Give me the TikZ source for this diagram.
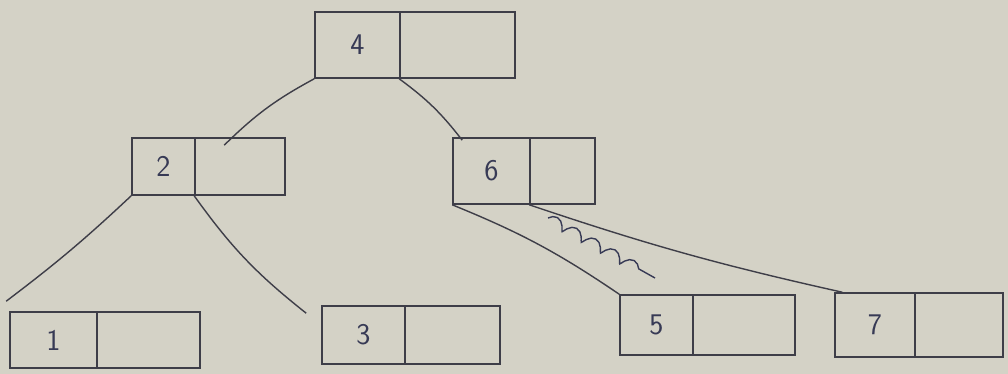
\documentclass[tikz,border=0pt]{standalone}
\usetikzlibrary{decorations.pathmorphing}
\definecolor{paper}{RGB}{212,210,198}
\definecolor{ink}{RGB}{62,62,72}
\definecolor{inkblue}{RGB}{55,58,85}
\begin{document}
\begin{tikzpicture}[x=1pt,y=-1pt,
  cell/.style={draw=ink,line width=1.6pt,inner sep=0pt,rectangle,
    font=\sffamily\fontsize{30}{34}\selectfont,text=inkblue},
  link/.style={draw=ink,line width=1.4pt},
  scrib/.style={draw=inkblue,line width=1.4pt,decorate,
    decoration={coil,amplitude=5pt,segment length=22pt}}]
\fill[paper] (0,0) rectangle (1008,374);
\useasboundingbox (0,0) rectangle (1008,374);
% node 4
\node[cell,minimum width=85pt,minimum height=66pt] (k4) at (357.5,45) {4};
\node[cell,minimum width=115pt,minimum height=66pt] (p4) at (457.5,45) {};
% node 2
\node[cell,minimum width=63pt,minimum height=57pt] (k2) at (163.5,166.5) {2};
\node[cell,minimum width=90pt,minimum height=57pt] (p2) at (240,166.5) {};
% node 6
\node[cell,minimum width=77pt,minimum height=66pt] (k6) at (491.5,171) {6};
\node[cell,minimum width=65pt,minimum height=66pt] (p6) at (562.5,171) {};
% node 1
\node[cell,minimum width=87pt,minimum height=56pt] (k1) at (53.5,340) {1};
\node[cell,minimum width=103pt,minimum height=56pt] (p1) at (148.5,340) {};
% node 3
\node[cell,minimum width=83pt,minimum height=58pt] (k3) at (363.5,335) {3};
\node[cell,minimum width=95pt,minimum height=58pt] (p3) at (452.5,335) {};
% node 5
\node[cell,minimum width=73pt,minimum height=60pt] (k5) at (656.5,325) {5};
\node[cell,minimum width=102pt,minimum height=60pt] (p5) at (744,325) {};
% node 7
\node[cell,minimum width=80pt,minimum height=64pt] (k7) at (875,325) {7};
\node[cell,minimum width=88pt,minimum height=64pt] (p7) at (959,325) {};
% connectors
\draw[link] (k4.south west) to[bend right=8] ([xshift=30pt,yshift=-8pt]p2.north west);
\draw[link] (p4.south west) to[bend left=8] ([xshift=10pt,yshift=-3pt]k6.north west);
\draw[link] (k2.south west) to[bend left=3] ([xshift=-3pt,yshift=10pt]k1.north west);
\draw[link] (p2.south west) to[bend right=8] ([xshift=-15pt,yshift=-8pt]k3.north west);
\draw[link] (k6.south west) to[bend left=6] (k5.north west);
\draw[link] (p6.south west) to[bend right=3] ([xshift=8pt]k7.north west);
% scribble
\coordinate (s1) at (548,218);
\coordinate (s2) at (655,278);
\draw[scrib] (s1) -- (s2);
\end{tikzpicture}
\end{document}
